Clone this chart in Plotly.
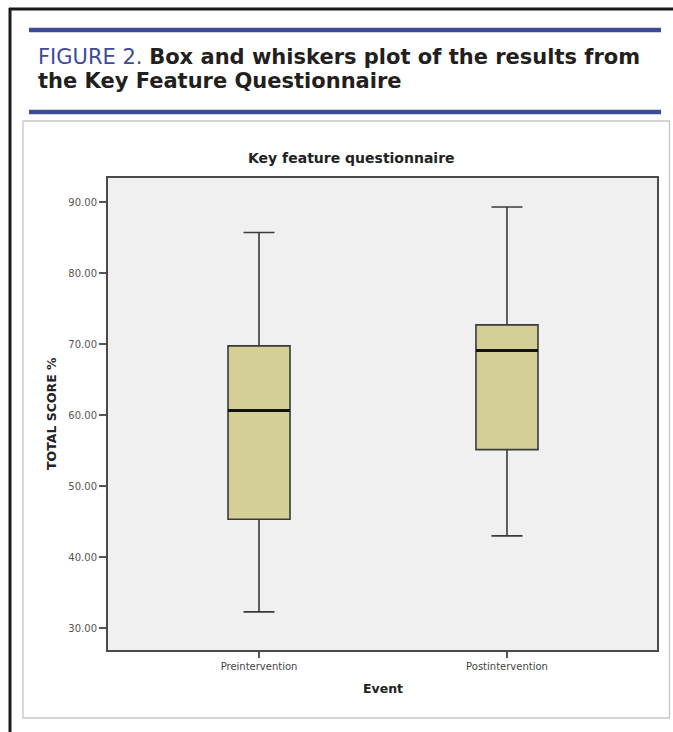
import plotly.graph_objects as go

# ---- data ----
categories = ["Preintervention", "Postintervention"]
lower_whisker = [32.3, 43.0]
q1_values = [45.35, 55.15]
median_values = [60.65, 69.1]
q3_values = [69.75, 72.7]
upper_whisker = [85.7, 89.3]
y_ticks = [30, 40, 50, 60, 70, 80, 90]

positions = list(range(len(categories)))

# ---- geometry (pixels in the 673x732 window) ----
W, H = 673, 732
ML, MR, MT, MB = 108, 16, 178, 82
PW, PH = W - ML - MR, H - MT - MB


def px(x):
    return (x - ML) / PW


def py(y):
    return (H - MB - y) / PH


BOX_W = 0.25

fig = go.Figure()
fig.add_trace(go.Box(
    x=positions,
    q1=q1_values,
    median=median_values,
    q3=q3_values,
    lowerfence=lower_whisker,
    upperfence=upper_whisker,
    fillcolor="#d4cf97",
    line=dict(color="#3a3a3a", width=1.6),
    width=BOX_W,
    whiskerwidth=0.5,
    boxpoints=False,
    showlegend=False,
    hoverinfo="skip",
))

shapes = []
# thick median lines
for p, m in zip(positions, median_values):
    shapes.append(dict(type="line", xref="x", yref="y",
                       x0=p - BOX_W / 2, x1=p + BOX_W / 2, y0=m, y1=m,
                       line=dict(color="#111111", width=3), layer="above"))

# outer black border (top and left)
shapes.append(dict(type="line", xref="paper", yref="paper",
                   x0=px(9), x1=px(W + 5), y0=py(9), y1=py(9),
                   line=dict(color="#1a1a1a", width=3)))
shapes.append(dict(type="line", xref="paper", yref="paper",
                   x0=px(10), x1=px(10), y0=py(8), y1=py(H + 5),
                   line=dict(color="#1a1a1a", width=3)))
# blue rules
for yy in (30, 112):
    shapes.append(dict(type="line", xref="paper", yref="paper",
                       x0=px(29), x1=px(661), y0=py(yy), y1=py(yy),
                       line=dict(color="#3c4b95", width=4.5)))
# grey frame around chart
shapes.append(dict(type="rect", xref="paper", yref="paper",
                   x0=px(23), x1=px(669.5), y0=py(121), y1=py(718),
                   line=dict(color="#c6c6c6", width=1.3), layer="below"))

HEAD_FONT = "DejaVu Sans, sans-serif"
annotations = [
    dict(text="<span style='color:#3d4b9a'>FIGURE 2.</span> "
              "<b>Box and whiskers plot of the results from</b>",
         x=px(36), y=py(56.5), xref="paper", yref="paper",
         xanchor="left", yanchor="middle", showarrow=False,
         font=dict(family=HEAD_FONT, size=21, color="#231f20")),
    dict(text="<b>the Key Feature Questionnaire</b>",
         x=px(36), y=py(81.2), xref="paper", yref="paper",
         xanchor="left", yanchor="middle", showarrow=False,
         font=dict(family=HEAD_FONT, size=21, color="#231f20")),
    dict(text="<b>Key feature questionnaire</b>",
         x=px(351), y=py(158), xref="paper", yref="paper",
         xanchor="center", yanchor="middle", showarrow=False,
         font=dict(family="DejaVu Sans", size=14, color="#222222")),
    dict(text="<b>TOTAL SCORE %</b>",
         x=px(51), y=py(414), xref="paper", yref="paper",
         xanchor="center", yanchor="middle", showarrow=False, textangle=-90,
         font=dict(family="DejaVu Sans", size=12.5, color="#222222")),
    dict(text="<b>Event</b>",
         x=px(383), y=py(688), xref="paper", yref="paper",
         xanchor="center", yanchor="middle", showarrow=False,
         font=dict(family="DejaVu Sans", size=12.5, color="#222222")),
]

fig.update_layout(
    width=W, height=H,
    margin=dict(l=ML, r=MR, t=MT, b=MB, pad=0),
    paper_bgcolor="white",
    plot_bgcolor="#f0f0f0",
    shapes=shapes,
    annotations=annotations,
    boxmode="overlay",
    xaxis=dict(
        range=[-0.609, 1.605],
        tickmode="array", tickvals=positions, ticktext=categories,
        ticks="outside", ticklen=6, tickwidth=1.5, tickcolor="#555555",
        tickfont=dict(family="DejaVu Sans", size=10, color="#444444"),
        showgrid=False, zeroline=False,
        showline=True, mirror=True, linecolor="#4a4a4a", linewidth=2,
        fixedrange=True,
    ),
    yaxis=dict(
        range=[26.94, 93.38],
        tickmode="array", tickvals=y_ticks, tickformat=".2f",
        ticks="outside", ticklen=7, tickwidth=1.5, tickcolor="#555555",
        tickfont=dict(family="DejaVu Sans", size=10, color="#555555"),
        showgrid=False, zeroline=False,
        showline=True, mirror=True, linecolor="#4a4a4a", linewidth=2,
        fixedrange=True,
    ),
)

fig.write_html(
    "out.html",
    config={"displayModeBar": False},
    post_script="document.body.style.margin='0';document.body.style.overflow='hidden';",
)
